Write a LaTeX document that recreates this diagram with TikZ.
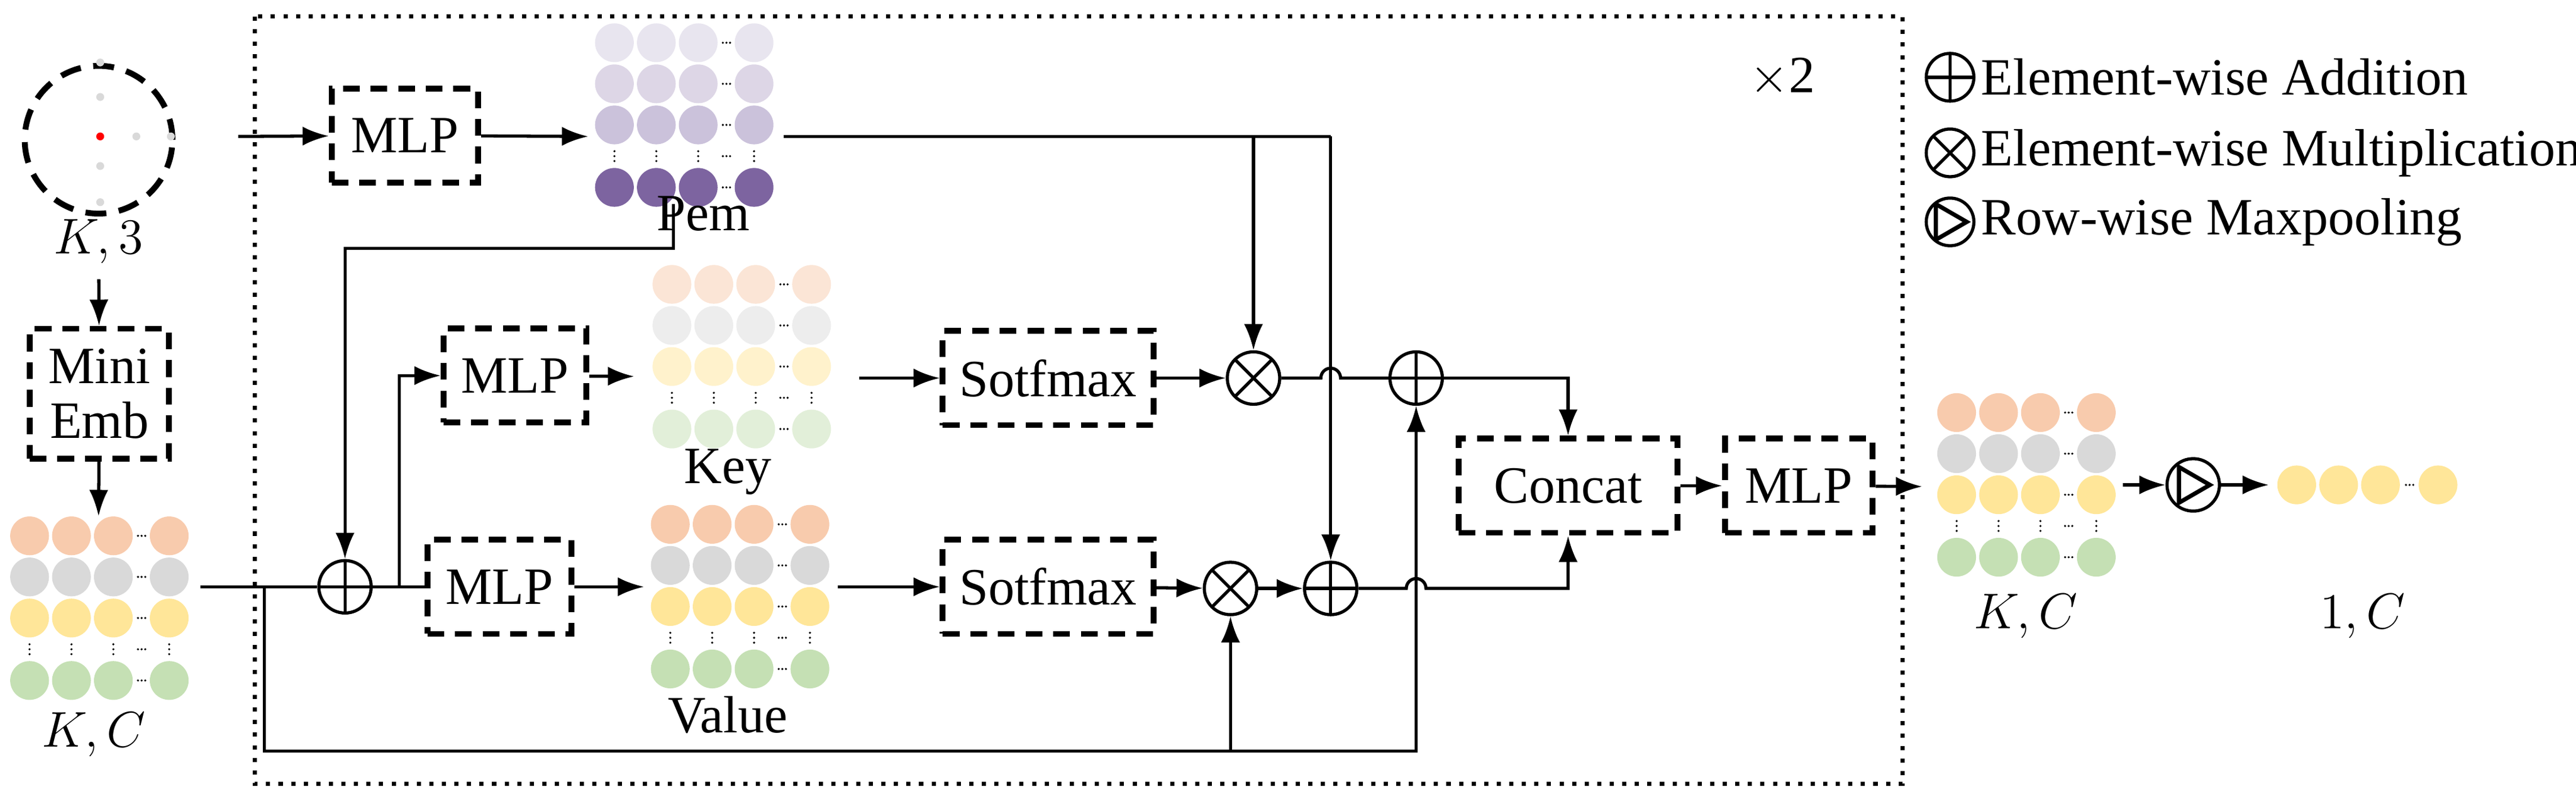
\documentclass[tikz,border=0pt]{standalone}
\usepackage{fontspec}
\setmainfont{Liberation Serif}
\usetikzlibrary{positioning,arrows.meta}

\definecolor{cOr}{HTML}{F8CBAD}
\definecolor{cGr}{HTML}{D9D9D9}
\definecolor{cYe}{HTML}{FFE699}
\definecolor{cGn}{HTML}{C5E0B4}
\definecolor{kOr}{HTML}{FBE5D6}
\definecolor{kGr}{HTML}{EDEDED}
\definecolor{kYe}{HTML}{FFF2CC}
\definecolor{kGn}{HTML}{E2EFD9}
\definecolor{pA}{HTML}{E8E5EF}
\definecolor{pB}{HTML}{DDD6E6}
\definecolor{pC}{HTML}{CBC2DB}
\definecolor{pD}{HTML}{7D64A0}

% feature matrix: #1 name, #2 top-left centre, #3-#6 row colours
\newcommand{\featmat}[6]{%
  \begin{scope}[shift={#2}]
    \coordinate (#1) at (42.5,44);
    \foreach \c/\yy in {#3/0,#4/25,#5/50,#6/88}{
      \foreach \xx in {0,25.5,51,85} \fill[\c] (\xx,\yy) circle (11.8);
      \foreach \xx in {66,68.2,70.4} \fill (\xx,\yy) circle (0.7);
    }
    \foreach \xx in {0,25.5,51,85}
      \foreach \yy in {66,69,72} \fill (\xx,\yy) circle (0.7);
    \foreach \xx in {66,68.2,70.4} \fill (\xx,69) circle (0.7);
  \end{scope}}

\begin{document}
\begin{tikzpicture}[x=0.0138cm, y=-0.0138cm,
  font=\fontsize{12.5}{15}\selectfont,
  line width=0.75pt, >={Latex[length=2.2mm,width=1.6mm]},
  box/.style={draw, line width=1.4pt, dash pattern=on 4pt off 2.6pt, minimum height=7.9mm, align=center, inner sep=1pt},
  op/.style={draw, circle, minimum size=4.4mm, inner sep=0pt},
  add/.style={op, path picture={\draw (path picture bounding box.north) -- (path picture bounding box.south)
      (path picture bounding box.west) -- (path picture bounding box.east);}},
  mul/.style={op, path picture={\draw (path picture bounding box.north west) -- (path picture bounding box.south east)
      (path picture bounding box.north east) -- (path picture bounding box.south west);}},
  pool/.style={op, path picture={\draw[line width=1pt] ([xshift=-1.2mm,yshift=1.5mm]path picture bounding box.center) -- ([xshift=1.4mm]path picture bounding box.center) -- ([xshift=-1.2mm,yshift=-1.5mm]path picture bounding box.center) -- cycle;}}]
\useasboundingbox (0,0) rectangle (1568,486);

% repeated block
\draw[dotted, line width=1pt] (155,10) rectangle (1158,477);
\node at (1085,47) {$\times$2};

% point cloud input
\node[draw, circle, line width=1.4pt, dash pattern=on 5pt off 3pt, minimum size=12.4mm] (pc) at (60,85) {};
\foreach \px/\py in {61/38,61/59,83/83,104/83,61/101,61/123} \fill[cGr] (\px,\py) circle (2.4);
\fill[red] (61,83) circle (2.4);
\node (k3) at (60,147) {$K,3$};
\node[box, minimum width=11.7mm, minimum height=10.9mm] (emb) at (60.5,239.5) {Mini\\[-2pt]Emb};

% feature matrices
\featmat{fin}{(18,326)}{cOr}{cGr}{cYe}{cGn}
\node (kc1) at (57,447) {$K,C$};
\featmat{pem}{(374,26)}{pA}{pB}{pC}{pD}
\node (pemlbl) at (428,130) {Pem};
\featmat{key}{(409,173)}{kOr}{kGr}{kYe}{kGn}
\node (keylbl) at (443,287) {Key};
\featmat{val}{(408,319)}{cOr}{cGr}{cYe}{cGn}
\node (vallbl) at (443,435) {Value};
\featmat{fout}{(1191,251)}{cOr}{cGr}{cYe}{cGn}
\node (kc2) at (1233,375) {$K,C$};
\begin{scope}[shift={(1398,295)}]
  \foreach \xx in {0,25.5,51,86} \fill[cYe] (\xx,0) circle (11.8);
  \foreach \xx in {66.5,68.7,70.9} \fill (\xx,0) circle (0.7);
\end{scope}
\coordinate (row) at (1381,295);
\node (c1) at (1438,375) {$1,C$};

% blocks
\node[box, minimum width=12.3mm] (mlpP) at (246.5,82.5) {MLP};
\node[box, minimum width=12mm] (mlpK) at (313.5,228.5) {MLP};
\node[box, minimum width=12.1mm] (mlpV) at (304,357) {MLP};
\node[box, minimum width=17.7mm] (smK) at (638,230) {Sotfmax};
\node[box, minimum width=17.7mm] (smV) at (638,357) {Sotfmax};
\node[box, minimum width=18.4mm] (concat) at (954.5,295.5) {Concat};
\node[box, minimum width=12.4mm] (mlpO) at (1095,295.5) {MLP};

% operators
\node[add] (addIn) at (210,357) {};
\node[mul] (mulK) at (763,230) {};
\node[add] (addK) at (862,230) {};
\node[mul] (mulV) at (749,358) {};
\node[add] (addV) at (810,358) {};
\node[pool] (pl) at (1335,295) {};

% helper points
\coordinate (pin) at (145,83);
\coordinate (pemW) at (358,83);
\coordinate (pemE) at (477,83);
\coordinate (pemS) at (410,124);
\coordinate (finE) at (122,357);
\coordinate (keyW) at (386,229);
\coordinate (keyE) at (523,230);
\coordinate (valW) at (392,357);
\coordinate (valE) at (510,357);
\coordinate (foutW) at (1170,296);
\coordinate (foutE) at (1292,295);

% connectors
\draw[->] (k3) -- (emb);
\draw[->] (emb) -- (60,314);
\draw[->] (pin) -- (mlpP);
\draw[->] (mlpP) -- (pemW);
\draw (pemE) -- (810,83);
\draw[->] (763,83) -- (mulK);
\draw[->] (810,83) -- (addV);
\draw[->] (pemS) |- (210,151) -- (addIn);
\draw (finE) -- (addIn) -- (mlpV);
\draw[->] (243,357) |- (mlpK);
\draw[->] (mlpK) -- (keyW);
\draw[->] (mlpV) -- (valW);
\draw[->] (keyE) -- (smK);
\draw[->] (valE) -- (smV);
\draw[->] (smK) -- (mulK);
\draw[->] (smV) -- (mulV);
\draw[->] (mulV) -- (addV);
\draw (mulK) -- (804,230) arc[start angle=180, end angle=360, radius=6] -- (addK);
\draw[->] (addK) -| (concat);
\draw[->] (addV) -- (856,358) arc[start angle=180, end angle=360, radius=6] -| (concat);
\draw[->] (161,357) |- (862,457) -- (addK);
\draw[->] (749,457) -- (mulV);
\draw[->] (concat) -- (mlpO);
\draw[->] (mlpO) -- (foutW);
\draw[->] (foutE) -- (pl);
\draw[->] (pl) -- (row);

% legend
\node[add, minimum size=4mm] (lgA) at (1187,47) {};
\node[mul, minimum size=4mm] (lgM) at (1187,93) {};
\node[pool, minimum size=4mm] (lgP) at (1187,135) {};
\node[anchor=west, inner sep=1pt] at (lgA.east) {Element-wise Addition};
\node[anchor=west, inner sep=1pt] at (lgM.east) {Element-wise Multiplication};
\node[anchor=west, inner sep=1pt] at (lgP.east) {Row-wise Maxpooling};
\end{tikzpicture}
\end{document}
